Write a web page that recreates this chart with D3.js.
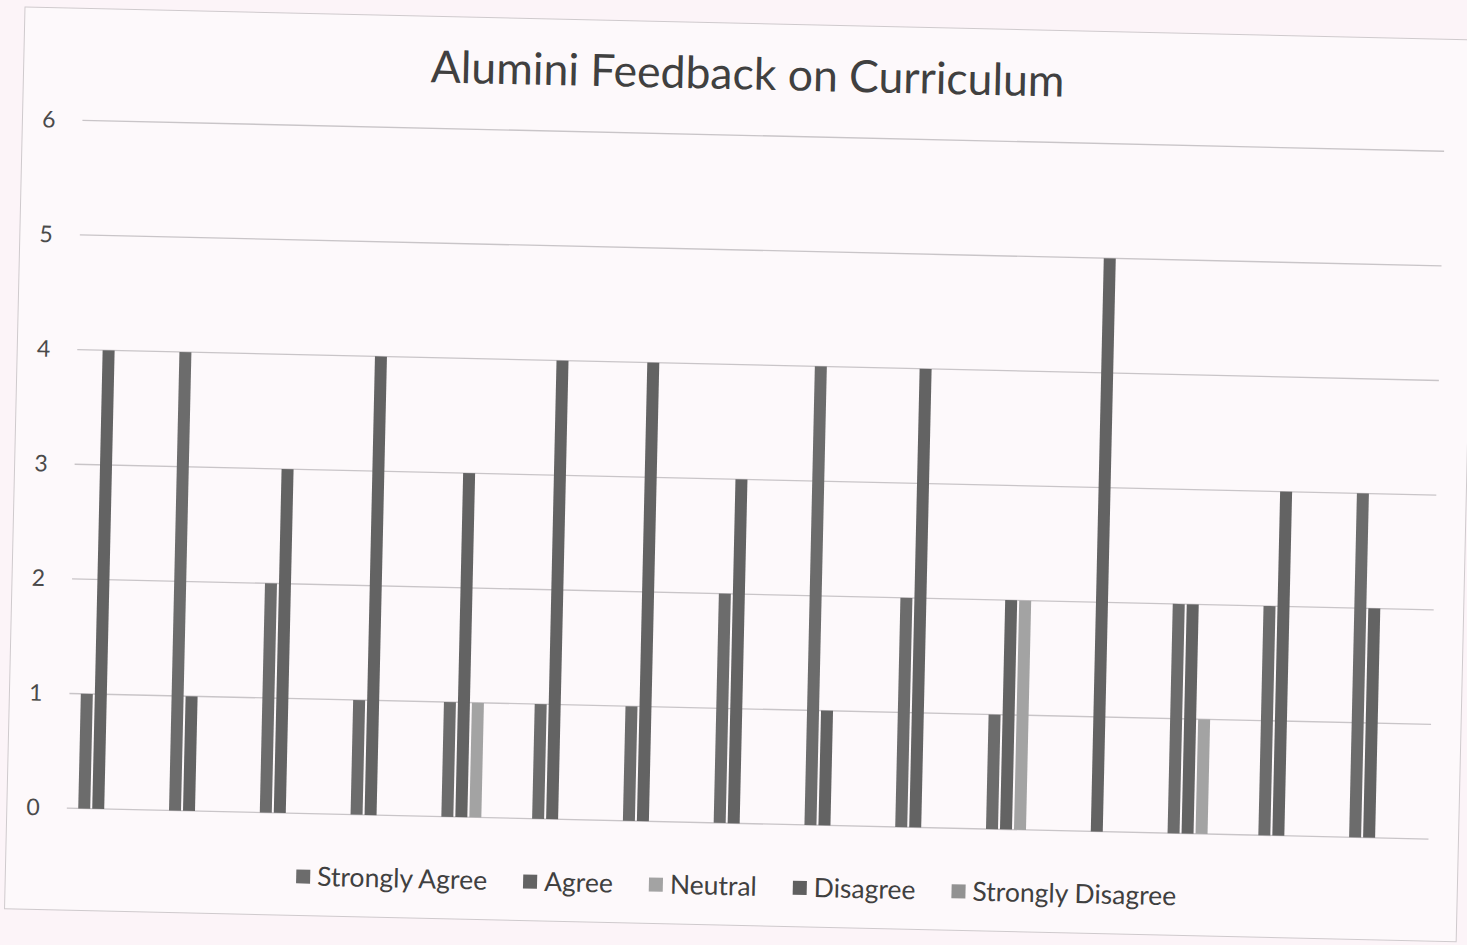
<!DOCTYPE html>
<html>
<head>
<meta charset="utf-8">
<script src="https://cdn.jsdelivr.net/npm/d3@7/dist/d3.min.js"></script>
<style>
  body { margin: 0; background: #fcf4f8; }
  svg { display: block; }
</style>
</head>
<body>
<svg id="chart" width="1467" height="945"></svg>
<script>
// chart values
var categories = ["1", "2", "3", "4", "5", "6", "7", "8", "9", "10", "11", "12", "13", "14", "15"];
var seriesNames = ["Strongly Agree", "Agree", "Neutral", "Disagree", "Strongly Disagree"];
var stronglyAgree = [1, 4, 2, 1, 1, 1, 1, 2, 4, 2, 1, 0, 2, 2, 3];
var agree = [4, 1, 3, 4, 3, 4, 4, 3, 1, 4, 2, 5, 2, 3, 2];
var neutral = [0, 0, 0, 0, 1, 0, 0, 0, 0, 0, 2, 0, 1, 0, 0];
var disagree = [0, 0, 0, 0, 0, 0, 0, 0, 0, 0, 0, 0, 0, 0, 0];
var stronglyDisagree = [0, 0, 0, 0, 0, 0, 0, 0, 0, 0, 0, 0, 0, 0, 0];
var yTicks = [0, 1, 2, 3, 4, 5, 6];
var seriesColors = ["#6c6c6c", "#636363", "#a3a3a3", "#5f5f5f", "#929292"];

var allSeries = [stronglyAgree, agree, neutral, disagree, stronglyDisagree];

var svg = d3.select('#chart');

svg.append('rect')
    .attr('width', 1467)
    .attr('height', 945)
    .attr('fill', '#fcf4f8');

// the scanned page is a little tilted, so the whole chart is turned a bit
var g = svg.append('g')
    .attr('transform', 'translate(25,7) rotate(1.3)');

g.append('rect')
    .attr('width', 1452)
    .attr('height', 902)
    .attr('fill', '#fdf9fb')
    .attr('stroke', '#cfcacd')
    .attr('stroke-width', 1);

var x0 = d3.scaleBand()
    .domain(categories)
    .range([60, 1422]);

var x1 = d3.scaleBand()
    .domain(seriesNames)
    .range([10.4, 80.4]);

var y = d3.scaleLinear()
    .domain([0, 6])
    .range([800, 112]);

// gridlines
g.append('g')
    .selectAll('line')
    .data(yTicks)
    .enter()
    .append('line')
    .attr('x1', 60)
    .attr('x2', 1422)
    .attr('y1', function (d) { return y(d); })
    .attr('y2', function (d) { return y(d); })
    .attr('stroke', '#c9c5c8')
    .attr('stroke-width', 1.3);

// y axis labels
var yAxis = d3.axisLeft(y)
    .tickValues(yTicks)
    .tickSize(0)
    .tickPadding(0)
    .tickFormat(d3.format('d'));

var ya = g.append('g')
    .attr('transform', 'translate(33,0)')
    .call(yAxis);
ya.select('.domain').remove();
ya.selectAll('text')
    .attr('font-family', 'Lato, "Open Sans", sans-serif')
    .attr('font-size', 23)
    .attr('fill', '#4a4a4a');

// bars
var groups = g.append('g')
    .selectAll('g')
    .data(categories)
    .enter()
    .append('g')
    .attr('transform', function (d) { return 'translate(' + x0(d) + ',0)'; });

groups.selectAll('rect')
    .data(function (d, i) {
        return seriesNames.map(function (s, k) {
            return { series: s, k: k, value: allSeries[k][i] };
        });
    })
    .enter()
    .append('rect')
    .attr('x', function (d) { return x1(d.series) + 1; })
    .attr('width', x1.bandwidth() - 2)
    .attr('y', function (d) { return y(d.value); })
    .attr('height', function (d) { return y(0) - y(d.value); })
    .attr('fill', function (d) { return seriesColors[d.k]; });

// title
g.append('text')
    .attr('x', 724)
    .attr('y', 66)
    .attr('text-anchor', 'middle')
    .attr('font-family', 'Lato, "Open Sans", sans-serif')
    .attr('font-size', 44.5)
    .attr('fill', '#404040')
    .text('Alumini Feedback on Curriculum');

// legend
var legend = g.append('g');
var items = legend.selectAll('g')
    .data(seriesNames)
    .enter()
    .append('g');

items.append('rect')
    .attr('width', 14)
    .attr('height', 14)
    .attr('y', -7)
    .attr('fill', function (d, i) { return seriesColors[i]; });

items.append('text')
    .attr('x', 21)
    .attr('y', 9)
    .attr('font-family', 'Lato, "Open Sans", sans-serif')
    .attr('font-size', 26.5)
    .attr('fill', '#404040')
    .text(function (d) { return d; });

var pos = 0;
items.each(function () {
    var w = this.getBBox().width;
    this.__x = pos;
    pos += w + 36;
});
var total = pos - 36;
items.attr('transform', function () {
    return 'translate(' + (731 - total / 2 + this.__x) + ',863)';
});
</script>
</body>
</html>
